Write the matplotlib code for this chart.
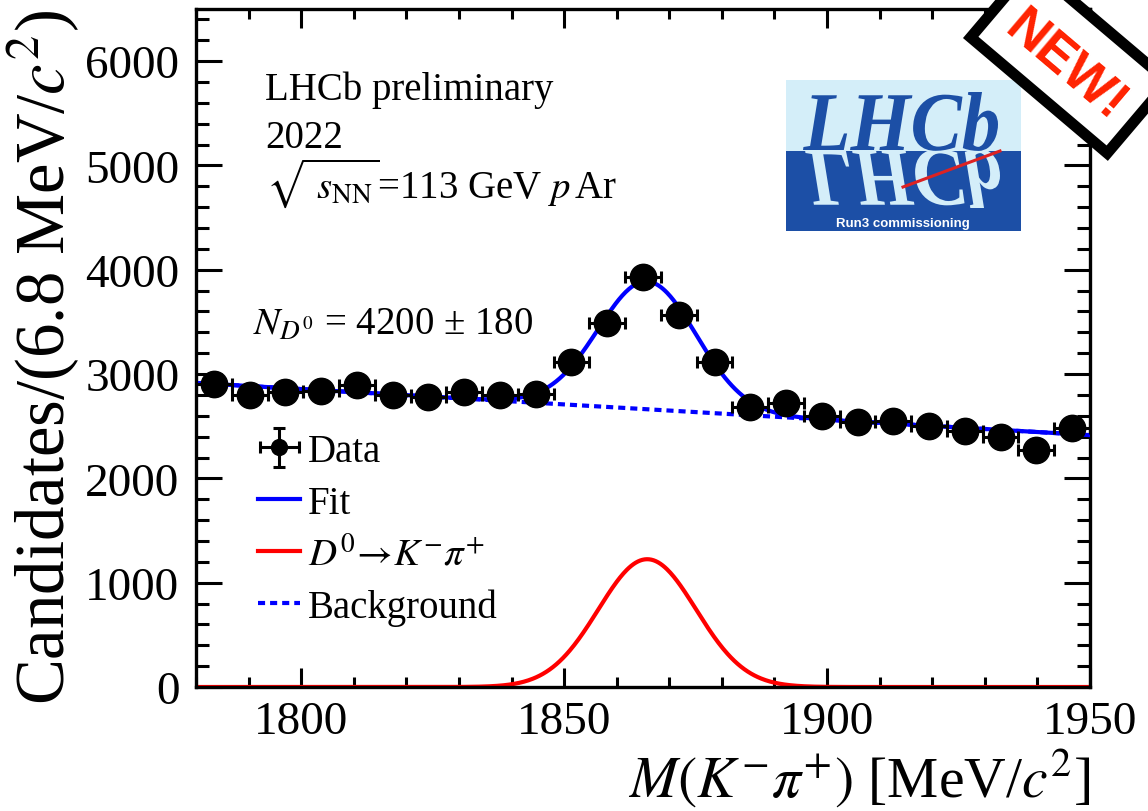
import numpy as np
import matplotlib
matplotlib.use('Agg')
import matplotlib.pyplot as plt
from matplotlib.patches import Rectangle, PathPatch
from matplotlib.lines import Line2D
from matplotlib.textpath import TextPath
from matplotlib.font_manager import FontProperties
from matplotlib.transforms import Affine2D
from matplotlib.ticker import MultipleLocator

plt.rcParams['font.family'] = ['Liberation Serif', 'DejaVu Serif']
plt.rcParams['mathtext.fontset'] = 'stix'

# D0 -> K- pi+ candidates, 25 bins of 6.8 MeV between 1780 and 1950
mass_lo, mass_hi = 1780.0, 1950.0
bin_width = 6.8
counts = [2905, 2795, 2827, 2836, 2898, 2799, 2783, 2827, 2795, 2808,
          3120, 3494, 3926, 3568, 3111, 2680, 2722, 2595, 2537, 2547,
          2505, 2451, 2400, 2275, 2486]

# fit result (gaussian signal + linear background)
n_sig = 4200
sig_mean = 1865.8
sig_width = 9.3
bkg_at_lo = 2915
bkg_at_hi = 2415

counts = np.array(counts, dtype=float)
centers = mass_lo + bin_width * (np.arange(len(counts)) + 0.5)

# fit model drawn on a fine grid
m = np.linspace(mass_lo, mass_hi, 800)
sig = n_sig * bin_width / (np.sqrt(2 * np.pi) * sig_width) * np.exp(-0.5 * ((m - sig_mean) / sig_width) ** 2)
bkg = bkg_at_lo + (bkg_at_hi - bkg_at_lo) * (m - mass_lo) / (mass_hi - mass_lo)

W, H = 1148, 812
fig = plt.figure(figsize=(W / 100, H / 100), dpi=100)
ax = fig.add_axes([196 / W, (H - 688) / H, 894 / W, 678 / H])

h_sig, = ax.plot(m, sig, color='#ff0000', lw=3, zorder=2)
h_bkg, = ax.plot(m, bkg, color='#0000ff', lw=3, ls=(0, (1.7, 1.2)), zorder=2)
h_fit, = ax.plot(m, sig + bkg, color='#0000ff', lw=3, zorder=3)
h_data = ax.errorbar(centers, counts, xerr=bin_width / 2, yerr=np.sqrt(counts),
                     fmt='o', color='black', ms=19, elinewidth=2.2,
                     capsize=4.5, capthick=2.2, zorder=5)

ax.set_xlim(mass_lo, mass_hi)
ax.set_ylim(0, 6500)
ax.xaxis.set_major_locator(MultipleLocator(50))
ax.xaxis.set_minor_locator(MultipleLocator(10))
ax.yaxis.set_major_locator(MultipleLocator(1000))
ax.yaxis.set_minor_locator(MultipleLocator(200))
ax.tick_params(which='both', direction='in', top=True, right=True, width=2.2)
ax.tick_params(axis='x', which='major', length=14, labelsize=34, pad=10)
ax.tick_params(axis='x', which='minor', length=7)
ax.tick_params(axis='y', which='major', length=19, labelsize=34, pad=12)
ax.tick_params(axis='y', which='minor', length=9.5)
for s in ax.spines.values():
    s.set_linewidth(2.4)

ax.set_xlabel(r'$M(K^{-}\pi^{+})$ [MeV/$c^2$]', fontsize=41.5, loc='right')
ax.xaxis.set_label_coords(1.0, -0.088)
ax.set_ylabel(r'Candidates/(6.8 MeV/$c^2$)', fontsize=49.5, loc='top')
ax.yaxis.set_label_coords(-0.127, 1.0)

# labels inside the frame
ax.text(0.077, 0.867, 'LHCb preliminary', transform=ax.transAxes, fontsize=28, va='baseline')
ax.text(0.077, 0.796, '2022', transform=ax.transAxes, fontsize=28, va='baseline')
ax.text(0.078, 0.723, r'$\sqrt{\ s_{\mathrm{NN}}}$=113 GeV $p\,$Ar', transform=ax.transAxes,
        fontsize=28, va='baseline')
ax.text(0.064, 0.521, r'$N_{D^0}$ = 4200 ± 180', transform=ax.transAxes, fontsize=28, va='baseline')

ax.legend([h_data, h_fit, h_sig, h_bkg],
          ['Data', 'Fit', r'$D^0\!\rightarrow\!K^{-}\pi^{+}$', 'Background'],
          loc='upper left', bbox_to_anchor=(0.069, 0.375), frameon=False, fontsize=28,
          borderpad=0, borderaxespad=0, handlelength=1.1, handletextpad=0.2,
          labelspacing=0.38, markerscale=0.6)

# pixel coordinates (origin bottom-left) for the logo and the stamp
px = Affine2D().scale(1 / 100) + fig.dpi_scale_trans

# LHCb Run3 logo
light, dark = '#d4eef9', '#1c4fa6'
fig.add_artist(Rectangle((786, H - 152), 235, 71, transform=px, facecolor=light, edgecolor='none'))
fig.add_artist(Rectangle((786, H - 232), 235, 80, transform=px, facecolor=dark, edgecolor='none'))
tp = TextPath((0, 0), 'LHCb', size=1,
              prop=FontProperties(family='Liberation Serif', style='italic', weight='bold'))
bb = tp.get_extents()
sx, sy = 195 / bb.width, 58 / bb.ymax
fig.add_artist(PathPatch(tp, transform=Affine2D().translate(-bb.xmin, 0).scale(sx, -sy).translate(805, H - 151) + px,
                         facecolor=light, edgecolor='none'))
fig.add_artist(PathPatch(tp, transform=Affine2D().translate(-bb.xmin, 0).scale(sx, sy).translate(803, H - 151) + px,
                         facecolor=dark, edgecolor='none'))
fig.add_artist(Line2D([903, 1000], [H - 188, H - 152], transform=px, color='#dd2222', lw=2.2))
fig.text(903, H - 227, 'Run3 commissioning', transform=px, ha='center', va='baseline',
         color='white', fontsize=9.5, fontweight='bold', family='Liberation Sans')

# "NEW!" stamp in the corner
fig.add_artist(Rectangle((970.7, H - 38.4), 179, 94, angle=-40.3, transform=px,
                         facecolor='white', edgecolor='black', lw=7.9, zorder=10))
fig.text(1065, H - 67, 'NEW!', transform=px, rotation=-40.3, rotation_mode='anchor',
         ha='center', va='center', color='#ff2200', fontsize=38, fontweight='bold',
         family='Liberation Sans', zorder=11)

fig.savefig('out.png', dpi=100)
